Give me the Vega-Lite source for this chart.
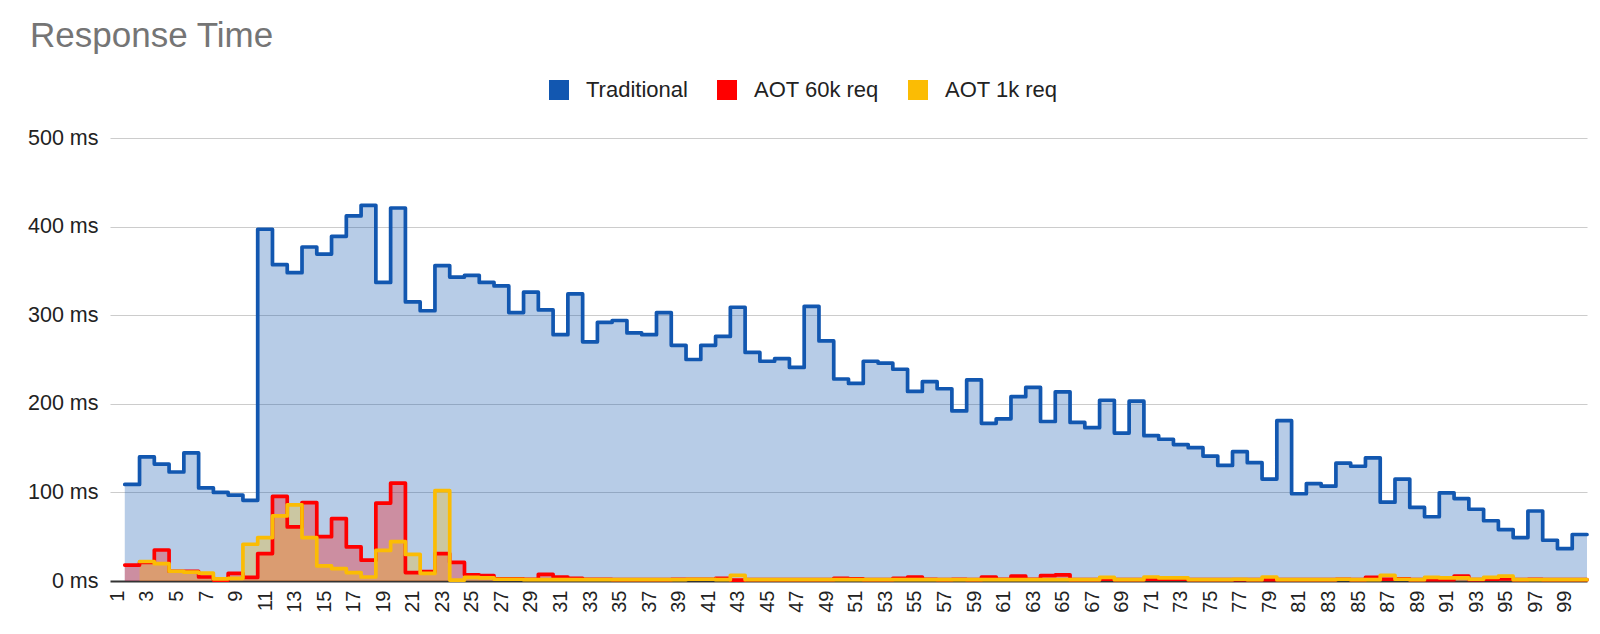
{
  "$schema": "https://vega.github.io/schema/vega-lite/v6.json",
  "width": 1477,
  "height": 443,
  "autosize": {"type": "none"},
  "padding": {"left": 110, "top": 138, "right": 13, "bottom": 53},
  "background": "white",
  "title": {
    "text": "Response Time",
    "anchor": "start",
    "frame": "group",
    "fontSize": 35,
    "fontWeight": "normal",
    "color": "#757575",
    "dx": -80,
    "offset": 25
  },
  "data": {
    "values": [
      {"n": 1, "Traditional": 109, "AOT 60k req": 18, "AOT 1k req": null},
      {"n": 2, "Traditional": 109, "AOT 60k req": 18, "AOT 1k req": 22},
      {"n": 3, "Traditional": 140, "AOT 60k req": 21, "AOT 1k req": 22},
      {"n": 4, "Traditional": 132, "AOT 60k req": 35, "AOT 1k req": 19.5},
      {"n": 5, "Traditional": 123, "AOT 60k req": 11, "AOT 1k req": 11},
      {"n": 6, "Traditional": 144.5, "AOT 60k req": 11, "AOT 1k req": 10},
      {"n": 7, "Traditional": 105, "AOT 60k req": 4.5, "AOT 1k req": 9},
      {"n": 8, "Traditional": 100, "AOT 60k req": 1, "AOT 1k req": 2.5},
      {"n": 9, "Traditional": 97, "AOT 60k req": 8.5, "AOT 1k req": 3},
      {"n": 10, "Traditional": 91, "AOT 60k req": 4, "AOT 1k req": 41.5},
      {"n": 11, "Traditional": 397, "AOT 60k req": 31, "AOT 1k req": 49},
      {"n": 12, "Traditional": 357, "AOT 60k req": 95.5, "AOT 1k req": 73.5},
      {"n": 13, "Traditional": 348, "AOT 60k req": 61, "AOT 1k req": 86},
      {"n": 14, "Traditional": 377, "AOT 60k req": 88.5, "AOT 1k req": 49},
      {"n": 15, "Traditional": 369, "AOT 60k req": 50, "AOT 1k req": 17},
      {"n": 16, "Traditional": 389, "AOT 60k req": 70.5, "AOT 1k req": 14},
      {"n": 17, "Traditional": 412, "AOT 60k req": 38.5, "AOT 1k req": 9.5},
      {"n": 18, "Traditional": 424, "AOT 60k req": 23.5, "AOT 1k req": 4.5},
      {"n": 19, "Traditional": 337, "AOT 60k req": 88, "AOT 1k req": 34.5},
      {"n": 20, "Traditional": 421, "AOT 60k req": 110.5, "AOT 1k req": 44.5},
      {"n": 21, "Traditional": 315, "AOT 60k req": 9.5, "AOT 1k req": 30},
      {"n": 22, "Traditional": 305, "AOT 60k req": 10.5, "AOT 1k req": 8.5},
      {"n": 23, "Traditional": 356, "AOT 60k req": 31, "AOT 1k req": 102},
      {"n": 24, "Traditional": 343, "AOT 60k req": 21, "AOT 1k req": 1},
      {"n": 25, "Traditional": 345, "AOT 60k req": 7, "AOT 1k req": 4},
      {"n": 26, "Traditional": 337, "AOT 60k req": 6, "AOT 1k req": 3.5},
      {"n": 27, "Traditional": 333, "AOT 60k req": 2.5, "AOT 1k req": 2},
      {"n": 28, "Traditional": 303, "AOT 60k req": 2.5, "AOT 1k req": 2},
      {"n": 29, "Traditional": 326, "AOT 60k req": 2, "AOT 1k req": 1.5},
      {"n": 30, "Traditional": 306, "AOT 60k req": 7.5, "AOT 1k req": 1.5},
      {"n": 31, "Traditional": 278, "AOT 60k req": 4.5, "AOT 1k req": 1.5},
      {"n": 32, "Traditional": 324, "AOT 60k req": 3, "AOT 1k req": 1.5},
      {"n": 33, "Traditional": 270, "AOT 60k req": 2, "AOT 1k req": 1.5},
      {"n": 34, "Traditional": 292, "AOT 60k req": 2, "AOT 1k req": 1.5},
      {"n": 35, "Traditional": 294, "AOT 60k req": 1.5, "AOT 1k req": 1.5},
      {"n": 36, "Traditional": 280, "AOT 60k req": 1.5, "AOT 1k req": 1.5},
      {"n": 37, "Traditional": 278, "AOT 60k req": 1.5, "AOT 1k req": 1.5},
      {"n": 38, "Traditional": 303, "AOT 60k req": 1.5, "AOT 1k req": 1.5},
      {"n": 39, "Traditional": 266, "AOT 60k req": 2, "AOT 1k req": 1.5},
      {"n": 40, "Traditional": 250, "AOT 60k req": 2, "AOT 1k req": 2},
      {"n": 41, "Traditional": 266, "AOT 60k req": 2, "AOT 1k req": 2},
      {"n": 42, "Traditional": 276, "AOT 60k req": 3, "AOT 1k req": 1.5},
      {"n": 43, "Traditional": 309, "AOT 60k req": 1, "AOT 1k req": 6.5},
      {"n": 44, "Traditional": 258, "AOT 60k req": 1.5, "AOT 1k req": 1.5},
      {"n": 45, "Traditional": 248, "AOT 60k req": 1.5, "AOT 1k req": 1.5},
      {"n": 46, "Traditional": 251, "AOT 60k req": 1.5, "AOT 1k req": 1.5},
      {"n": 47, "Traditional": 241, "AOT 60k req": 1.5, "AOT 1k req": 1.5},
      {"n": 48, "Traditional": 310, "AOT 60k req": 1.5, "AOT 1k req": 1.5},
      {"n": 49, "Traditional": 271, "AOT 60k req": 1.5, "AOT 1k req": 1.5},
      {"n": 50, "Traditional": 228, "AOT 60k req": 3, "AOT 1k req": 1.5},
      {"n": 51, "Traditional": 223, "AOT 60k req": 2.5, "AOT 1k req": 1.5},
      {"n": 52, "Traditional": 248, "AOT 60k req": 1.5, "AOT 1k req": 1.5},
      {"n": 53, "Traditional": 246, "AOT 60k req": 1.5, "AOT 1k req": 1.5},
      {"n": 54, "Traditional": 239, "AOT 60k req": 3, "AOT 1k req": 1.5},
      {"n": 55, "Traditional": 214, "AOT 60k req": 4.5, "AOT 1k req": 1.5},
      {"n": 56, "Traditional": 225, "AOT 60k req": 2, "AOT 1k req": 1.5},
      {"n": 57, "Traditional": 217, "AOT 60k req": 1.5, "AOT 1k req": 1.5},
      {"n": 58, "Traditional": 192, "AOT 60k req": 2, "AOT 1k req": 1.5},
      {"n": 59, "Traditional": 227, "AOT 60k req": 1.5, "AOT 1k req": 1.5},
      {"n": 60, "Traditional": 178, "AOT 60k req": 4.5, "AOT 1k req": 1.5},
      {"n": 61, "Traditional": 183, "AOT 60k req": 2, "AOT 1k req": 1.5},
      {"n": 62, "Traditional": 208, "AOT 60k req": 5.5, "AOT 1k req": 1.5},
      {"n": 63, "Traditional": 218.5, "AOT 60k req": 2, "AOT 1k req": 1.5},
      {"n": 64, "Traditional": 180, "AOT 60k req": 6, "AOT 1k req": 1.5},
      {"n": 65, "Traditional": 213.5, "AOT 60k req": 7, "AOT 1k req": 1.5},
      {"n": 66, "Traditional": 179, "AOT 60k req": 1.5, "AOT 1k req": 1.5},
      {"n": 67, "Traditional": 173, "AOT 60k req": 1.5, "AOT 1k req": 1.5},
      {"n": 68, "Traditional": 204, "AOT 60k req": 2, "AOT 1k req": 4},
      {"n": 69, "Traditional": 167, "AOT 60k req": 1.5, "AOT 1k req": 1.5},
      {"n": 70, "Traditional": 203, "AOT 60k req": 1.5, "AOT 1k req": 1.5},
      {"n": 71, "Traditional": 164, "AOT 60k req": 2, "AOT 1k req": 4.5},
      {"n": 72, "Traditional": 160, "AOT 60k req": 2, "AOT 1k req": 3.5},
      {"n": 73, "Traditional": 154, "AOT 60k req": 2, "AOT 1k req": 3.5},
      {"n": 74, "Traditional": 150.5, "AOT 60k req": 1.5, "AOT 1k req": 1.5},
      {"n": 75, "Traditional": 141, "AOT 60k req": 1.5, "AOT 1k req": 1.5},
      {"n": 76, "Traditional": 130.5, "AOT 60k req": 1.5, "AOT 1k req": 1.5},
      {"n": 77, "Traditional": 146, "AOT 60k req": 1.5, "AOT 1k req": 2},
      {"n": 78, "Traditional": 133.5, "AOT 60k req": 1.5, "AOT 1k req": 1.5},
      {"n": 79, "Traditional": 115, "AOT 60k req": 1.5, "AOT 1k req": 4.5},
      {"n": 80, "Traditional": 181, "AOT 60k req": 1.5, "AOT 1k req": 1.5},
      {"n": 81, "Traditional": 98.5, "AOT 60k req": 1.5, "AOT 1k req": 1.5},
      {"n": 82, "Traditional": 110, "AOT 60k req": 1.5, "AOT 1k req": 1.5},
      {"n": 83, "Traditional": 107, "AOT 60k req": 1.5, "AOT 1k req": 1.5},
      {"n": 84, "Traditional": 133, "AOT 60k req": 2, "AOT 1k req": 2},
      {"n": 85, "Traditional": 129.5, "AOT 60k req": 1.5, "AOT 1k req": 1.5},
      {"n": 86, "Traditional": 139, "AOT 60k req": 4, "AOT 1k req": 1.5},
      {"n": 87, "Traditional": 89, "AOT 60k req": 2, "AOT 1k req": 6.5},
      {"n": 88, "Traditional": 115, "AOT 60k req": 2.5, "AOT 1k req": 2},
      {"n": 89, "Traditional": 83, "AOT 60k req": 1.5, "AOT 1k req": 1.5},
      {"n": 90, "Traditional": 72.5, "AOT 60k req": 1.5, "AOT 1k req": 4},
      {"n": 91, "Traditional": 99.5, "AOT 60k req": 1.5, "AOT 1k req": 3.5},
      {"n": 92, "Traditional": 93, "AOT 60k req": 5.5, "AOT 1k req": 3.5},
      {"n": 93, "Traditional": 81, "AOT 60k req": 1.5, "AOT 1k req": 2},
      {"n": 94, "Traditional": 68, "AOT 60k req": 2, "AOT 1k req": 4},
      {"n": 95, "Traditional": 58, "AOT 60k req": 2.5, "AOT 1k req": 5.5},
      {"n": 96, "Traditional": 49, "AOT 60k req": 1.5, "AOT 1k req": 1.5},
      {"n": 97, "Traditional": 79, "AOT 60k req": 2, "AOT 1k req": 1.5},
      {"n": 98, "Traditional": 46, "AOT 60k req": 1.5, "AOT 1k req": 1.5},
      {"n": 99, "Traditional": 36.5, "AOT 60k req": 1.5, "AOT 1k req": 1.5},
      {"n": 100, "Traditional": 52.5, "AOT 60k req": 1.5, "AOT 1k req": 1.5}
    ]
  },
  "transform": [
    {"fold": ["Traditional", "AOT 60k req", "AOT 1k req"], "as": ["series", "ms"]}
  ],
  "encoding": {
    "x": {
      "field": "n",
      "type": "quantitative",
      "scale": {"domain": [0, 100], "nice": false, "zero": false},
      "axis": {
        "title": null,
        "values": [0.5, 2.5, 4.5, 6.5, 8.5, 10.5, 12.5, 14.5, 16.5, 18.5, 20.5, 22.5, 24.5, 26.5, 28.5, 30.5, 32.5, 34.5, 36.5, 38.5, 40.5, 42.5, 44.5, 46.5, 48.5, 50.5, 52.5, 54.5, 56.5, 58.5, 60.5, 62.5, 64.5, 66.5, 68.5, 70.5, 72.5, 74.5, 76.5, 78.5, 80.5, 82.5, 84.5, 86.5, 88.5, 90.5, 92.5, 94.5, 96.5, 98.5],
        "labelExpr": "datum.value + 0.5",
        "labelAngle": 270,
        "labelFontSize": 20,
        "labelColor": "#222222",
        "labelPadding": 9,
        "labelOverlap": false,
        "labelFlush": false,
        "labelBound": false,
        "grid": false,
        "ticks": false,
        "domain": false
      }
    },
    "y": {
      "field": "ms",
      "type": "quantitative",
      "stack": null,
      "scale": {"domain": [0, 500], "nice": false},
      "axis": {
        "title": null,
        "values": [0, 100, 200, 300, 400, 500],
        "labelExpr": "datum.value + ' ms'",
        "labelFontSize": 21.5,
        "labelColor": "#222222",
        "labelPadding": 12,
        "ticks": false,
        "domain": false,
        "grid": true,
        "gridColor": {"condition": {"test": "datum.value === 0", "value": "#333333"}, "value": "#cccccc"},
        "gridWidth": {"condition": {"test": "datum.value === 0", "value": 2}, "value": 1.2}
      }
    },
    "color": {
      "field": "series",
      "type": "nominal",
      "sort": ["Traditional", "AOT 60k req", "AOT 1k req"],
      "scale": {
        "domain": ["Traditional", "AOT 60k req", "AOT 1k req"],
        "range": ["#1257b0", "#ff0000", "#fbbc04"]
      },
      "legend": {
        "title": null,
        "orient": "none",
        "legendX": 438,
        "legendY": -59,
        "direction": "horizontal",
        "symbolType": "square",
        "symbolSize": 400,
        "symbolOpacity": 1,
        "symbolStrokeWidth": 0,
        "labelFontSize": 22,
        "labelColor": "#222222",
        "labelOffset": 16,
        "columnPadding": 28
      }
    }
  },
  "layer": [
    {
      "mark": {"type": "area", "interpolate": "step-before", "fillOpacity": 0.3}
    },
    {
      "mark": {"type": "line", "interpolate": "step-before", "strokeWidth": 3.7, "strokeJoin": "round", "strokeCap": "round"}
    }
  ],
  "config": {
    "font": "Liberation Sans",
    "view": {"stroke": null}
  }
}
